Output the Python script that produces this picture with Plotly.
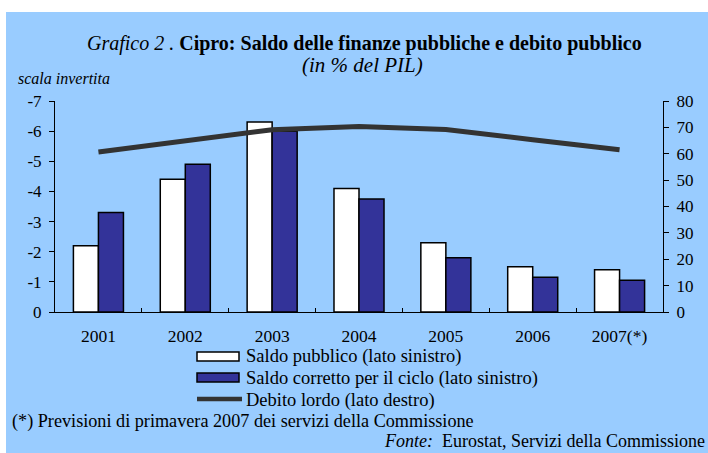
import plotly.graph_objects as go

years = ["2001", "2002", "2003", "2004", "2005", "2006", "2007(*)"]
saldo_pubblico = [-2.2, -4.4, -6.3, -4.1, -2.3, -1.5, -1.4]
saldo_corretto = [-3.3, -4.9, -6.0, -3.75, -1.8, -1.15, -1.05]
debito_lordo = [60.7, 64.7, 69.1, 70.3, 69.2, 65.3, 61.5]
names = ["Saldo pubblico (lato sinistro)",
         "Saldo corretto per il ciclo (lato sinistro)",
         "Debito lordo (lato destro)"]
left_ticks = [-7, -6, -5, -4, -3, -2, -1, 0]
right_ticks = [0, 10, 20, 30, 40, 50, 60, 70, 80]

W, H = 708, 453
L, R, T, B = 55, 663, 101, 312
FONT = "Liberation Serif"
BG = "#99CCFF"

def px(x):
    return (x - L) / (R - L)

def py(y):
    return (B - y) / (B - T)

fig = go.Figure()
fig.add_trace(go.Bar(x=years, y=saldo_pubblico, name=names[0],
                     marker=dict(color="white", line=dict(color="black", width=1.5)),
                     yaxis="y", showlegend=False))
fig.add_trace(go.Bar(x=years, y=saldo_corretto, name=names[1],
                     marker=dict(color="#333399", line=dict(color="black", width=1.5)),
                     yaxis="y", showlegend=False))
fig.add_trace(go.Scatter(x=years, y=debito_lordo, name=names[2], mode="lines",
                         line=dict(color="#333333", width=5),
                         yaxis="y2", showlegend=False))

shapes = [
    dict(type="rect", xref="paper", yref="paper", x0=px(6), x1=px(720),
         y0=py(12), y1=py(460), fillcolor=BG, line=dict(width=0), layer="below"),
    # legend symbols
    dict(type="rect", xref="paper", yref="paper", x0=px(197), x1=px(239),
         y0=py(352), y1=py(361), fillcolor="white", line=dict(color="black", width=1.5)),
    dict(type="rect", xref="paper", yref="paper", x0=px(197), x1=px(239),
         y0=py(373), y1=py(382), fillcolor="#333399", line=dict(color="black", width=1.5)),
    dict(type="line", xref="paper", yref="paper", x0=px(197), x1=px(242),
         y0=py(399), y1=py(399), line=dict(color="#333333", width=4.5)),
]

def ann(text, x, y, size, anchor="left"):
    return dict(text=text, x=px(x), y=py(y), xref="paper", yref="paper",
                showarrow=False, font=dict(family=FONT, size=size, color="black"),
                xanchor=anchor, yanchor="middle")

annotations = [
    ann("<i>Grafico 2 .</i> <b>Cipro: Saldo delle finanze pubbliche e debito pubblico</b>",
        364, 43, 20, "center"),
    ann("<i>(in % del PIL)</i>", 362, 65, 21, "center"),
    ann("<i>scala invertita</i>", 16, 78, 16),
    ann(names[0], 244, 356, 18.5),
    ann(names[1], 244, 378, 18.5),
    ann(names[2], 244, 400, 18.5),
    ann("(*) Previsioni di primavera 2007 dei servizi della Commissione", 10, 421, 18.2),
    ann("<i>Fonte:</i>  Eurostat, Servizi della Commissione", 707, 441, 18, "right"),
]

fig.update_layout(
    width=W, height=H,
    margin=dict(l=L, r=W - R, t=T, b=H - B, pad=0),
    paper_bgcolor="white", plot_bgcolor="rgba(0,0,0,0)",
    barmode="group", bargap=0.424, bargroupgap=0,
    font=dict(family=FONT, size=16, color="black"),
    xaxis=dict(type="category", showline=True, linecolor="black", linewidth=1,
               ticks="inside", tickson="boundaries", ticklen=4, tickcolor="black",
               showgrid=False, zeroline=False, tickfont=dict(family=FONT, size=17.5),
               ticklabelstandoff=8, automargin=False),
    yaxis=dict(range=[0, -7], tickvals=left_ticks, ticktext=[str(v) for v in left_ticks],
               showline=True, linecolor="black", linewidth=1, ticks="outside",
               ticklen=5, tickcolor="black", showgrid=False, zeroline=False,
               tickfont=dict(family=FONT, size=17), ticklabelstandoff=4,
               automargin=False),
    yaxis2=dict(range=[0, 80], tickvals=right_ticks, overlaying="y", side="right",
                showline=True, linecolor="black", linewidth=1, ticks="outside",
                ticklen=5, tickcolor="black", showgrid=False, zeroline=False,
                tickfont=dict(family=FONT, size=17), ticklabelstandoff=4,
                automargin=False),
    shapes=shapes, annotations=annotations,
)

fig.write_html(
    "out.html",
    config={"displayModeBar": False},
    post_script=("document.body.style.margin='0';"
                 "document.body.style.overflow='hidden';"
                 "document.documentElement.style.overflow='hidden';"),
)
